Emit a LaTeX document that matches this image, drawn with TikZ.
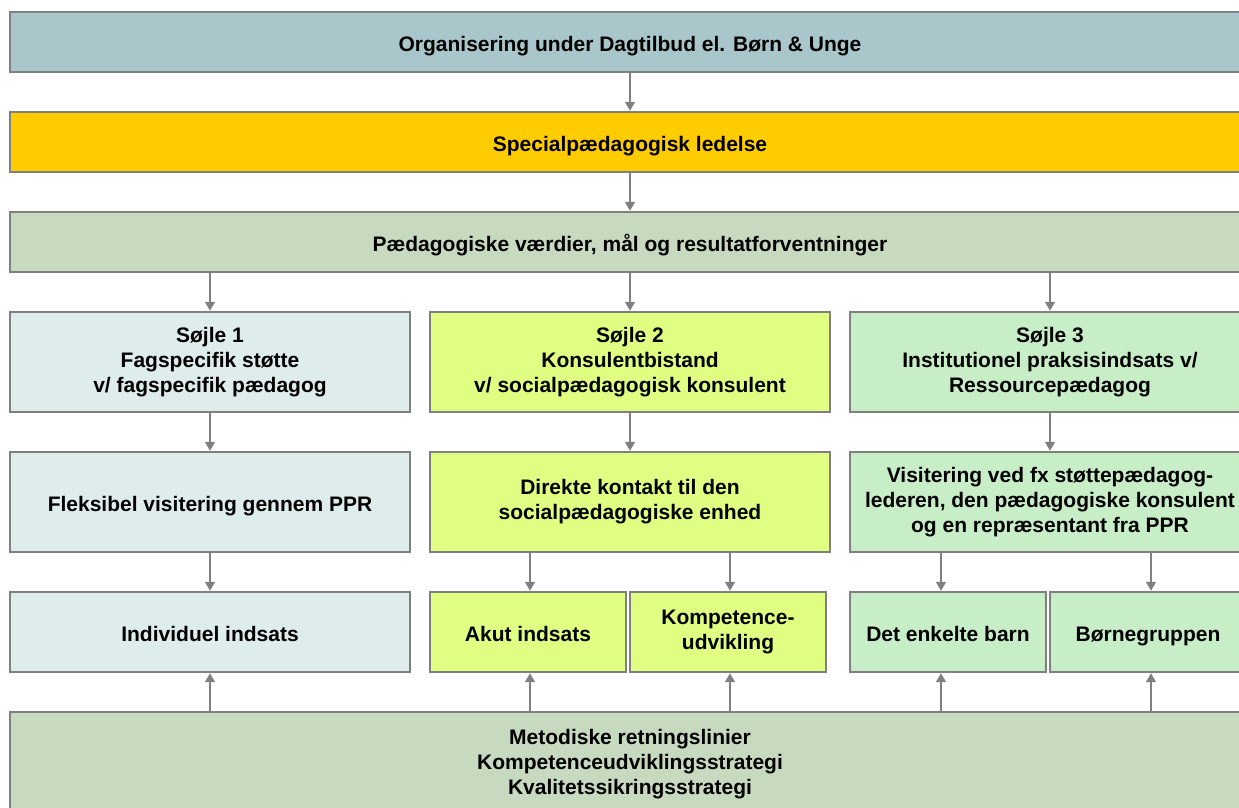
\documentclass[tikz,border=0pt]{standalone}
\usepackage{fontspec}
\setmainfont{Liberation Sans}
\usetikzlibrary{arrows.meta,calc}

\definecolor{orgfill}{RGB}{169,199,202}
\definecolor{leadfill}{RGB}{255,204,0}
\definecolor{valfill}{RGB}{199,217,191}
\definecolor{colAfill}{RGB}{222,236,236}
\definecolor{colBfill}{RGB}{224,255,130}
\definecolor{colCfill}{RGB}{200,238,200}
\definecolor{edgegray}{RGB}{128,128,128}

\tikzset{
  box/.style={draw=edgegray, line width=1.4pt, rectangle, inner sep=0pt,
    align=center, font=\fontsize{21}{25}\selectfont\bfseries,
    % fixed first-line height and last-line depth keep every label on the same optical centre
    execute at begin node={\vrule width 0pt height 23pt depth 0pt},
    execute at end node={\vrule width 0pt height 0pt depth 5pt}},
  wide/.style={box, minimum width=1240pt, minimum height=60pt},
  colbox/.style={box, minimum width=400pt, minimum height=100pt},
  subbox/.style={box, minimum width=196pt, minimum height=80pt},
  arr/.style={draw=edgegray, line width=1.4pt,
    -{Triangle[width=10pt,length=9pt]}, shorten >=0.5pt}
}

\begin{document}
\begin{tikzpicture}[x=1pt, y=-1pt]
  \useasboundingbox (0,0) rectangle (1239,807);
  \clip (0,0) rectangle (1239,807);

  % top rows
  \node[wide, fill=orgfill]  (org)  at (630,42)  {Organisering under Dagtilbud el. Børn \& Unge};
  \node[wide, fill=leadfill] (lead) at (630,142) {Specialpædagogisk ledelse};
  \node[wide, fill=valfill]  (val)  at (630,242) {Pædagogiske værdier, mål og resultatforventninger};

  % the three pillars
  \node[colbox, fill=colAfill] (p1) at (210,362)  {Søjle 1\\Fagspecifik støtte\\v/ fagspecifik pædagog};
  \node[colbox, fill=colBfill] (p2) at (630,362)  {Søjle 2\\Konsulentbistand\\v/ socialpædagogisk konsulent};
  \node[colbox, fill=colCfill] (p3) at (1050,362) {Søjle 3\\Institutionel praksisindsats v/\\Ressourcepædagog};

  % access routes
  \node[colbox, fill=colAfill] (v1) at (210,502)  {Fleksibel visitering gennem PPR};
  \node[colbox, fill=colBfill] (v2) at (630,502)  {Direkte kontakt til den\\socialpædagogiske enhed};
  \node[colbox, fill=colCfill] (v3) at (1050,502) {Visitering ved fx støttepædagog-\\lederen, den pædagogiske konsulent\\og en repræsentant fra PPR};

  % interventions
  \node[box, fill=colAfill, minimum width=400pt, minimum height=80pt] (i1) at (210,632) {Individuel indsats};
  \node[subbox, fill=colBfill] (a2) at (528,632)  {Akut indsats};
  \node[subbox, fill=colBfill] (k2) at (728,632)  {Kompetence-\\udvikling};
  \node[subbox, fill=colCfill] (d3) at (948,632)  {Det enkelte barn};
  \node[subbox, fill=colCfill] (b3) at (1148,632) {Børnegruppen};

  % foundation
  \node[box, fill=valfill, minimum width=1240pt, minimum height=104pt] (base) at (630,764)
    {Metodiske retningslinier\\Kompetenceudviklingsstrategi\\Kvalitetssikringsstrategi};

  % vertical flow
  \draw[arr] (org) -- (lead);
  \draw[arr] (lead) -- (val);
  \draw[arr] (val.south -| p1) -- (p1);
  \draw[arr] (val.south -| p2) -- (p2);
  \draw[arr] (val.south -| p3) -- (p3);
  \draw[arr] (p1) -- (v1);
  \draw[arr] (p2) -- (v2);
  \draw[arr] (p3) -- (v3);
  \draw[arr] (v1) -- (i1);
  \draw[arr] (v2.south -| 530,0) -- (a2.north -| 530,0);
  \draw[arr] (v2.south -| 730,0) -- (k2.north -| 730,0);
  \draw[arr] (v3.south -| 941,0) -- (d3.north -| 941,0);
  \draw[arr] (v3.south -| 1151,0) -- (b3.north -| 1151,0);

  % foundation supports the interventions
  \draw[arr] (base.north -| i1) -- (i1);
  \draw[arr] (base.north -| 530,0) -- (a2.south -| 530,0);
  \draw[arr] (base.north -| 730,0) -- (k2.south -| 730,0);
  \draw[arr] (base.north -| 941,0) -- (d3.south -| 941,0);
  \draw[arr] (base.north -| 1151,0) -- (b3.south -| 1151,0);
\end{tikzpicture}
\end{document}
